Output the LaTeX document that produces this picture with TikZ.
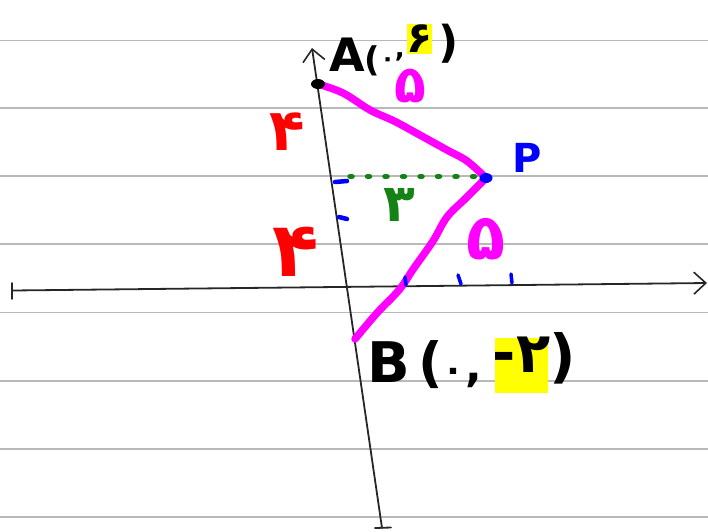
\documentclass[tikz,border=0pt]{standalone}
\usepackage{fontspec}
\setmainfont{DejaVu Sans}
\usetikzlibrary{arrows.meta}
\definecolor{rule}{RGB}{185,185,185}
\definecolor{pmag}{RGB}{255,0,255}
\definecolor{pred}{RGB}{255,0,0}
\definecolor{pblue}{RGB}{0,0,255}
\definecolor{pgreen}{RGB}{20,130,20}
\definecolor{hl}{RGB}{255,255,0}
\tikzset{
  ruling/.style={draw=rule,line width=1.1pt},
  axis/.style={draw=black!85,line width=1.8pt,line cap=round,line join=round},
  axarrow/.style={-{Straight Barb[length=12pt,width=22pt,line width=1.6pt]}},
  mag/.style={draw=pmag,line width=7.5pt,line cap=round,line join=round},
  bluepen/.style={draw=pblue,line width=4.5pt,line cap=round},
  greendots/.style={draw=pgreen,line width=5.5pt,line cap=round,dash pattern=on 2pt off 15.5pt},
  hand/.style={inner sep=0pt,font=\bfseries\fontsize{#1}{#1}\selectfont},
  hand/.default=48,
  hlbox/.style={fill=hl,inner sep=0pt}
}
\newcommand\fsz[2]{{\fontsize{#1}{#1}\selectfont #2}}
\begin{document}
\begin{tikzpicture}[x=1pt,y=-1pt]
\useasboundingbox (0,0) rectangle (708,531);
% ruled paper
\foreach \yy in {40.5,108,176,244,312.5,381,449,517}
  \draw[ruling] (0,\yy) -- (708,\yy);
% axes
\coordinate (xl) at (12,290.5);
\coordinate (xr) at (707,283);
\coordinate (yb) at (382,528);
\coordinate (yt) at (312,48);
\draw[axis,axarrow] (xl) -- (xr);
\draw[axis,axarrow] (yb) -- (yt);
\draw[axis] ([yshift=7.5pt]xl) -- ([yshift=-8.5pt]xl);
\draw[axis] ([xshift=-7pt]yb) -- ([xshift=9pt,yshift=0.5pt]yb);
% key points
\coordinate (A) at (318,84);
\coordinate (P) at (486,178);
\coordinate (B) at (355,339);
% magenta sides
\draw[mag] plot[smooth,tension=0.6] coordinates {(A) (343,93) (370,110) (394,121) (418,134) (447,150) (467,161) (P)};
\draw[mag] plot[smooth,tension=0.6] coordinates {(P) (466,198) (447,217) (433,241) (414,268) (399,290) (377,313) (B)};
% green dotted height
\draw[greendots] (350,176.5) -- (476,176.5);
% blue marks
\draw[bluepen] (335,182) -- (347,181);
\draw[bluepen] (339,217) -- (347,219);
\fill[pblue] (P) ellipse [x radius=6.5pt,y radius=5pt];
\draw[bluepen,line width=3.5pt] (405,277) -- (406,285);
\draw[bluepen,line width=3.5pt] (458,275) -- (461,284);
\draw[bluepen,line width=3.5pt] (511,274) -- (512,283);
% point A
\fill[black] (A) ellipse [x radius=7pt,y radius=5pt];
% label A(۰,۶)
\node[hlbox,minimum width=25pt,minimum height=30pt] (lAh) at (419.5,39) {};
\node[hand=46,anchor=base west] (lA) at (329,71)
  {A\fsz{34}{(}\raisebox{5pt}{\fsz{24}{۰}}\raisebox{14pt}{\fsz{26}{,}}};
\node[hand=43,anchor=base] (lA6) at (419.5,52) {۶};
\node[hand=44] (lAcl) at (449,44) {)};
% label B(۰,-۲)
\node[hand=56] (lB) at (389,362) {B};
\node[hand=54,anchor=base west] (lBo) at (418,381)
  {(\fsz{36}{۰}\kern1pt\fsz{44}{,}};
\node[hlbox,minimum width=53pt,minimum height=55pt] (lBh) at (521.5,365.5) {};
\node[hand=56,anchor=base] (lB2) at (522,372) {-\kern1pt۲};
\node[hand=58] (lBcl) at (563,358) {)};
% P
\node[hand=40,text=pblue] (lP) at (527,158) {P};
% numbers
\node[hand=58,text=pred,anchor=base] (l4a) at (287,150) {۴};
\node[hand=76,text=pred,anchor=base] (l4b) at (296,276) {۴};
\node[hand=52,text=pgreen,anchor=base] (l3) at (399,221) {۳};
\node[hand=52,text=pmag,anchor=base] (l5a) at (410,102) {۵};
\node[hand=64,text=pmag,anchor=base] (l5b) at (486,259) {۵};
\end{tikzpicture}
\end{document}
